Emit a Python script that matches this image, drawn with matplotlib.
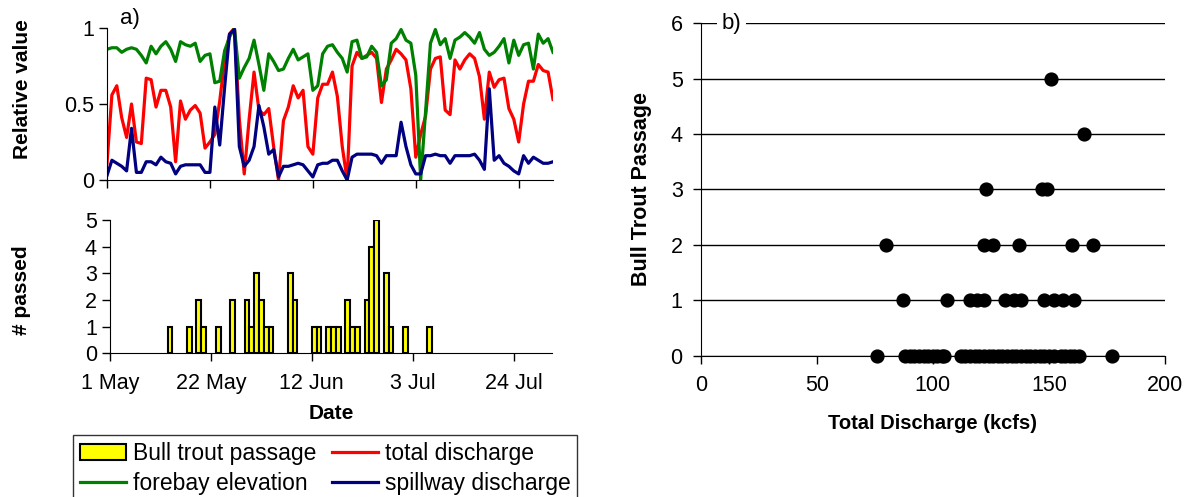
import numpy as np
import matplotlib
matplotlib.use("Agg")
import matplotlib.pyplot as plt
from matplotlib.patches import Patch
from matplotlib.lines import Line2D

plt.rcParams['font.family'] = ['Liberation Sans', 'DejaVu Sans']

# ==========================
# Data (days since 1 May)
# ==========================

forebay = [0.86, 0.87, 0.87, 0.84, 0.86, 0.87, 0.86, 0.82, 0.77, 0.88,
           0.83, 0.88, 0.91, 0.86, 0.78, 0.91, 0.89, 0.88, 0.90, 0.78,
           0.82, 0.83, 0.64, 0.65, 0.85, 0.94, 1.00, 0.67, 0.74, 0.80,
           0.92, 0.76, 0.59, 0.83, 0.78, 0.72, 0.73, 0.80, 0.86, 0.79,
           0.81, 0.83, 0.59, 0.62, 0.83, 0.88, 0.89, 0.84, 0.80, 0.71,
           0.91, 0.92, 0.80, 0.81, 0.88, 0.84, 0.62, 0.66, 0.90, 0.93,
           0.99, 0.92, 0.90, 0.69, 0.00, 0.45, 0.90, 0.99, 0.89, 0.93,
           0.80, 0.92, 0.94, 0.97, 0.94, 0.90, 0.97, 0.86, 0.82, 0.84,
           0.88, 0.93, 0.77, 0.92, 0.82, 0.89, 0.90, 0.73, 0.96, 0.90,
           0.93, 0.84]

total_q = [0.11, 0.56, 0.62, 0.41, 0.28, 0.50, 0.25, 0.24, 0.67, 0.66,
           0.48, 0.59, 0.59, 0.48, 0.12, 0.52, 0.40, 0.46, 0.49, 0.44,
           0.21, 0.25, 0.30, 0.52, 0.79, 0.96, 1.00, 0.40, 0.04, 0.40,
           0.71, 0.46, 0.43, 0.47, 0.22, 0.00, 0.39, 0.48, 0.62, 0.54,
           0.59, 0.22, 0.17, 0.54, 0.63, 0.63, 0.71, 0.55, 0.22, 0.00,
           0.75, 0.84, 0.80, 0.82, 0.84, 0.80, 0.51, 0.73, 0.79, 0.86,
           0.83, 0.79, 0.60, 0.15, 0.30, 0.42, 0.73, 0.80, 0.81, 0.46,
           0.43, 0.79, 0.73, 0.79, 0.83, 0.80, 0.68, 0.40, 0.71, 0.61,
           0.66, 0.67, 0.47, 0.40, 0.25, 0.50, 0.65, 0.65, 0.76, 0.72,
           0.71, 0.53]

spill_q = [0.03, 0.13, 0.11, 0.09, 0.06, 0.34, 0.05, 0.05, 0.12, 0.12,
           0.10, 0.15, 0.12, 0.11, 0.04, 0.09, 0.10, 0.10, 0.10, 0.10,
           0.05, 0.05, 0.48, 0.23, 0.61, 0.96, 0.99, 0.22, 0.09, 0.13,
           0.22, 0.49, 0.35, 0.17, 0.20, 0.02, 0.09, 0.09, 0.10, 0.11,
           0.10, 0.06, 0.02, 0.10, 0.11, 0.11, 0.13, 0.13, 0.06, 0.00,
           0.15, 0.17, 0.17, 0.17, 0.17, 0.16, 0.11, 0.16, 0.16, 0.16,
           0.38, 0.22, 0.10, 0.04, 0.04, 0.16, 0.16, 0.17, 0.16, 0.16,
           0.11, 0.16, 0.16, 0.16, 0.16, 0.17, 0.13, 0.07, 0.60, 0.13,
           0.16, 0.11, 0.09, 0.06, 0.04, 0.16, 0.11, 0.15, 0.13, 0.11,
           0.11, 0.12]

pass_days = [12, 16, 18, 19, 22, 25, 28, 29, 30, 31, 32, 33, 37, 38,
             42, 43, 45, 46, 47, 49, 50, 51, 53, 54, 55, 57, 58, 61, 66]
pass_count = [1, 1, 2, 1, 1, 2, 2, 1, 3, 2, 1, 1, 3, 2,
              1, 1, 1, 1, 1, 2, 1, 1, 2, 4, 5, 3, 1, 1, 1]

date_ticks = [0, 21, 42, 63, 84]
date_labels = ["1 May", "22 May", "12 Jun", "3 Jul", "24 Jul"]

# scatter: total discharge (kcfs) vs bull trout passage
disch_5 = [151]
disch_4 = [165]
disch_3 = [123, 147, 149]
disch_2 = [80, 122, 126, 137, 160, 169]
disch_1 = [87, 106, 116, 119, 122, 131, 135, 138, 148, 152, 156, 161]
disch_0 = [76, 88, 90, 92, 94, 96, 98, 100, 102, 104, 105, 112, 114, 116,
           118, 120, 122, 124, 126, 128, 130, 132, 134, 136, 138, 140, 142,
           144, 146, 148, 150, 152, 155, 157, 159, 161, 163, 177]

# ==========================
# Figure
# ==========================

W, H = 1191, 497
fig = plt.figure(figsize=(W / 100, H / 100), dpi=100)


def px_axes(x0, x1, ytop, ybot):
    return fig.add_axes([x0 / W, 1 - ybot / H, (x1 - x0) / W, (ybot - ytop) / H])


TICK = 15.5
LAB = 15

days = np.arange(len(forebay))

# ---- a) top: relative values
ax1 = px_axes(107, 553, 28, 180)
ax1.plot(days, total_q, color="#ff0000", lw=2.3)
ax1.plot(days, forebay, color="#008000", lw=2.3)
ax1.plot(days, spill_q, color="#000080", lw=2.3)
ax1.set_xlim(0, 91)
ax1.set_ylim(0, 1)
ax1.set_yticks([0, 0.5, 1])
ax1.set_yticklabels(["0", "0.5", "1"])
ax1.set_xticks(date_ticks)
ax1.set_xticklabels([])
ax1.set_ylabel("Relative value", fontsize=LAB, fontweight="bold")
ax1.yaxis.set_label_coords(-0.19, 0.6)
ax1.yaxis.label.set_va("center")
ax1.text(0.03, 1.06, "a)", transform=ax1.transAxes, fontsize=16, va="center")

# ---- a) bottom: passage bars
ax2 = px_axes(110, 552, 220, 353.3)
ax2.bar(pass_days, pass_count, width=1, align="edge", color="#ffff00",
        edgecolor="black", lw=1.5)
ax2.set_xlim(0, 92)
ax2.set_ylim(0, 5)
ax2.set_yticks(range(6))
ax2.set_xticks(date_ticks)
ax2.set_xticklabels(date_labels)
ax2.set_ylabel("# passed", fontsize=LAB, fontweight="bold")
ax2.yaxis.set_label_coords(-0.2, 0.47)
ax2.yaxis.label.set_va("center")
ax2.set_xlabel("Date", fontsize=LAB, fontweight="bold")
ax2.xaxis.set_label_coords(0.5, -0.45)
ax2.xaxis.label.set_va("center")

for ax in (ax1, ax2):
    for s in ("top", "right"):
        ax.spines[s].set_visible(False)
    ax.tick_params(labelsize=TICK, length=6, width=1, direction="out")
ax2.tick_params(axis="x", pad=8)

# ---- b) scatter
ax3 = px_axes(700.7, 1165, 23.3, 355.5)
ax3.set_axisbelow(True)
ax3.yaxis.grid(True, color="black", lw=1)
groups = [disch_0, disch_1, disch_2, disch_3, disch_4, disch_5]
for n, xs in enumerate(groups):
    ax3.scatter(xs, [n] * len(xs), s=85, color="black", zorder=3, clip_on=False)
ax3.set_xlim(0, 200)
ax3.set_ylim(0, 6)
ax3.set_xticks([0, 50, 100, 150, 200])
ax3.set_yticks(range(7))
for s in ("top", "right"):
    ax3.spines[s].set_visible(False)
ax3.tick_params(labelsize=TICK, length=6, width=1, direction="out")
ax3.tick_params(axis="x", pad=8)
ax3.tick_params(axis="y", pad=7)
ax3.set_ylabel("Bull Trout Passage", fontsize=LAB + 0.5, fontweight="bold")
ax3.yaxis.set_label_coords(-0.128, 0.5)
ax3.yaxis.label.set_va("center")
ax3.set_xlabel("Total Discharge (kcfs)", fontsize=LAB - 0.5, fontweight="bold")
ax3.xaxis.set_label_coords(0.5, -0.205)
ax3.xaxis.label.set_va("center")
ax3.text(0.045, 1.0, "b)", transform=ax3.transAxes, fontsize=16, va="center",
         bbox=dict(facecolor="white", edgecolor="none", pad=3))

# ---- legend
handles = [Patch(facecolor="#ffff00", edgecolor="black", lw=1.5),
           Line2D([], [], color="#008000", lw=2.3),
           Line2D([], [], color="#ff0000", lw=2.3),
           Line2D([], [], color="#000080", lw=2.3)]
labels = ["Bull trout passage", "forebay elevation",
          "total discharge", "spillway discharge"]
leg = fig.legend(handles, labels, ncol=2, loc="upper left",
                 bbox_to_anchor=(73 / W, 1 - 435 / H), fontsize=16.5,
                 frameon=True, fancybox=False, edgecolor="black",
                 borderaxespad=0, handlelength=2.0, handletextpad=0.3,
                 columnspacing=0.7, labelspacing=0.32, borderpad=0.3)
leg.get_frame().set_linewidth(1)

fig.savefig("out.png", dpi=100)
